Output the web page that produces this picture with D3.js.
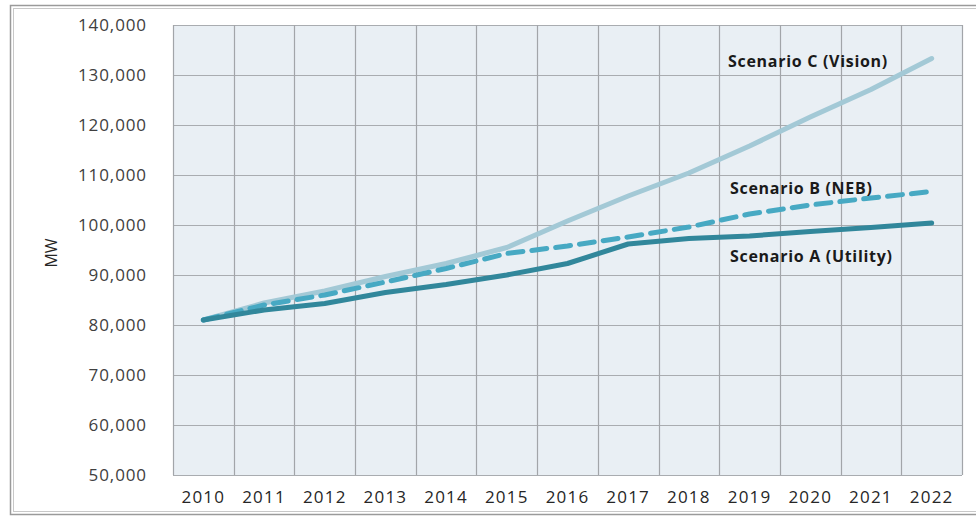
<!DOCTYPE html>
<html>
<head>
<meta charset="utf-8">
<script src="https://cdn.jsdelivr.net/npm/d3@7"></script>
<style>
  body { margin: 0; background: #fff; }
  text { font-family: "Open Sans", "DejaVu Sans", sans-serif; }
</style>
</head>
<body>
<div id="chart"></div>
<script>
// data
const years = [2010, 2011, 2012, 2013, 2014, 2015, 2016, 2017, 2018, 2019, 2020, 2021, 2022];
const scenarioA = [81000, 83000, 84300, 86500, 88100, 90000, 92300, 96200, 97300, 97800, 98700, 99500, 100400];
const scenarioB = [81000, 84000, 86000, 88600, 91300, 94300, 95800, 97600, 99600, 102200, 104000, 105400, 106700];
const scenarioC = [81000, 84400, 86800, 89700, 92300, 95500, 100800, 105800, 110400, 115800, 121600, 127100, 133300];
const yTicks = [50000, 60000, 70000, 80000, 90000, 100000, 110000, 120000, 130000, 140000];

const W = 976, H = 518;
const margin = {top: 25, right: 15, bottom: 43, left: 173};

const svg = d3.select("#chart").append("svg")
  .attr("width", W).attr("height", H);

// outer frame (double line)
svg.append("rect").attr("x", 10.5).attr("y", 5.5).attr("width", 980).attr("height", 509)
  .attr("fill", "#fff").attr("stroke", "#9a9a9a").attr("stroke-width", 1.5);
svg.append("rect").attr("x", 13.5).attr("y", 8.5).attr("width", 980).attr("height", 503)
  .attr("fill", "none").attr("stroke", "#c8c8c8").attr("stroke-width", 1);

const g = svg.append("g").attr("transform", `translate(${margin.left},${margin.top})`);
const width = 962 - margin.left, height = 475 - margin.top;

const x = d3.scaleBand().domain(years).range([0, width]);
const y = d3.scaleLinear().domain([50000, 140000]).range([height, 0]);

// plot background
g.append("rect").attr("width", width).attr("height", height).attr("fill", "#e9eff4");

// horizontal grid
g.append("g").selectAll("line").data(yTicks).join("line")
  .attr("x1", 0).attr("x2", width)
  .attr("y1", d => Math.round(y(d)) + 0.5).attr("y2", d => Math.round(y(d)) + 0.5)
  .attr("stroke", "#a9acb0").attr("stroke-width", 1.2);

// vertical grid at band edges
const edges = years.map(d => x(d)).concat([width]);
g.append("g").selectAll("line").data(edges).join("line")
  .attr("x1", d => Math.round(d) + 0.5).attr("x2", d => Math.round(d) + 0.5)
  .attr("y1", 0).attr("y2", height)
  .attr("stroke", "#a2a5a9").attr("stroke-width", 1.2);

// y axis labels
const fmt = d3.format(",");
g.append("g").selectAll("text").data(yTicks).join("text")
  .attr("x", -26).attr("y", d => y(d)).attr("dy", "0.35em")
  .attr("text-anchor", "end").attr("font-size", 17).attr("letter-spacing", 0.9)
  .attr("fill", "#404040")
  .text(d => fmt(d));

// x axis labels
g.append("g").selectAll("text").data(years).join("text")
  .attr("x", d => x(d) + x.bandwidth() / 2).attr("y", height + 22).attr("dy", "0.35em")
  .attr("text-anchor", "middle").attr("font-size", 17).attr("letter-spacing", 1.2)
  .attr("fill", "#262626")
  .text(d => d);

// y title
svg.append("text").attr("transform", "translate(57,253) rotate(-90)")
  .attr("text-anchor", "middle").attr("font-size", 16).attr("fill", "#262626")
  .text("MW");

const line = d3.line()
  .x((d, i) => x(years[i]) + x.bandwidth() / 2)
  .y(d => y(d));

const series = [
  {name: "C", values: scenarioC, color: "#a3c9d6", dash: null},
  {name: "B", values: scenarioB, color: "#47a9c3", dash: "15,9"},
  {name: "A", values: scenarioA, color: "#31879b", dash: null}
];

g.append("g").selectAll("path").data(series).join("path")
  .attr("d", d => line(d.values))
  .attr("fill", "none")
  .attr("stroke", d => d.color)
  .attr("stroke-width", 5)
  .attr("stroke-linecap", "round")
  .attr("stroke-linejoin", "round")
  .attr("stroke-dasharray", d => d.dash);

// series labels
const labels = [
  {text: "Scenario C (Vision)", x: 728, y: 67},
  {text: "Scenario B (NEB)", x: 730, y: 194},
  {text: "Scenario A (Utility)", x: 730, y: 262}
];
svg.append("g").selectAll("text").data(labels).join("text")
  .attr("x", d => d.x).attr("y", d => d.y)
  .attr("font-size", 16).attr("font-weight", "bold").attr("letter-spacing", 0.7)
  .attr("fill", "#1a1a1a")
  .text(d => d.text);
</script>
</body>
</html>
